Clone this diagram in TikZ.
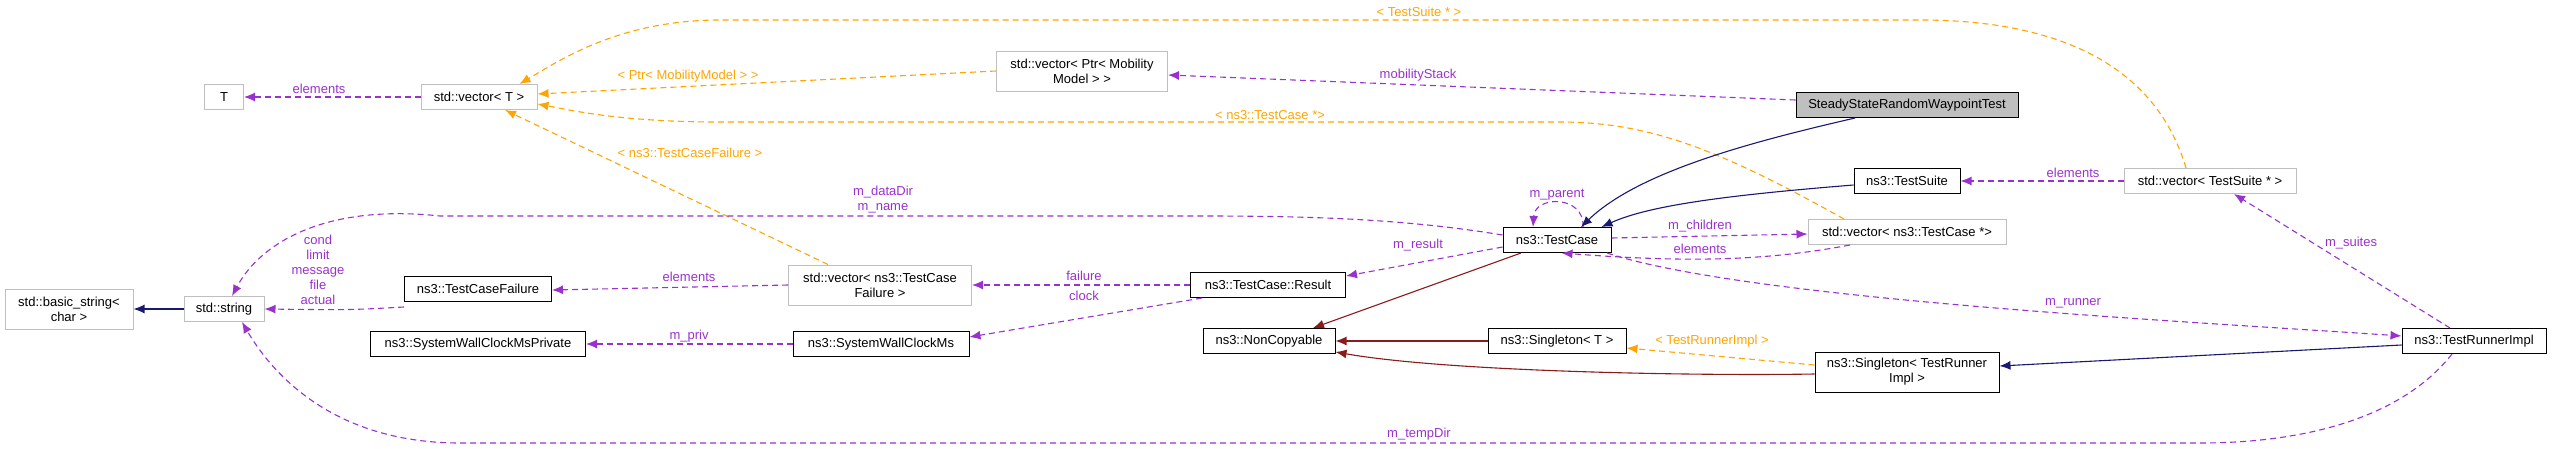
\documentclass[tikz,border=0pt]{standalone}
\usepackage{fontspec}
\setmainfont{Liberation Sans}
\usepackage{xcolor}
\usetikzlibrary{arrows.meta}
\definecolor{inherit}{RGB}{25,25,112}
\definecolor{privinh}{RGB}{139,26,26}
\definecolor{usage}{RGB}{153,50,204}
\definecolor{templ}{RGB}{255,165,0}
\begin{document}
\begin{tikzpicture}[x=1pt,y=-1pt,
  every node/.style={font=\fontsize{13}{15}\selectfont},
  cls/.style={draw=black,line width=1pt,minimum height=25pt,inner xsep=5pt,align=center},
  ext/.style={draw=black!25,line width=1pt,minimum height=25pt,inner xsep=5pt,align=center},
  lbl/.style={inner sep=1pt,align=center},
  use/.style={usage,dashed,dash pattern=on 6pt off 4pt,line width=1.1pt,-{Latex[length=11pt,width=9pt]}},
  tpl/.style={templ,dashed,dash pattern=on 6pt off 4pt,line width=1.1pt,-{Latex[length=11pt,width=9pt]}},
  pub/.style={inherit,line width=1.1pt,-{Latex[length=11pt,width=9pt]}},
  prv/.style={privinh,line width=1.1pt,-{Latex[length=11pt,width=9pt]}}]
\useasboundingbox (0,0) rectangle (2557,448);

\node[ext,minimum width=39pt]  (T)    at (224,97)  {T};
\node[ext,minimum width=116pt] (vecT) at (479,97)  {std::vector< T >};
\node[ext,minimum width=128pt,minimum height=40pt] (bstr) at (69,309) {std::basic\_string<\\char >};
\node[ext,minimum width=80pt]  (str)  at (224,309) {std::string};
\node[cls,minimum width=147pt] (tcf)  at (478,289) {ns3::TestCaseFailure};
\node[cls,minimum width=215pt] (swcp) at (478,344) {ns3::SystemWallClockMsPrivate};
\node[ext,minimum width=171pt,minimum height=40pt] (vptr) at (1082,71) {std::vector< Ptr< Mobility\\Model > >};
\node[ext,minimum width=183pt,minimum height=40pt] (vtcf) at (880,285) {std::vector< ns3::TestCase\\Failure >};
\node[cls,minimum width=176pt] (swc)  at (881,344) {ns3::SystemWallClockMs};
\node[cls,minimum width=155pt] (res)  at (1268,285) {ns3::TestCase::Result};
\node[cls,minimum width=132pt] (nc)   at (1269,341) {ns3::NonCopyable};
\node[cls,minimum width=108pt] (tc)   at (1557,240) {ns3::TestCase};
\node[cls,minimum width=138pt] (sgT)  at (1557,341) {ns3::Singleton< T >};
\node[cls,minimum width=222pt,fill=black!25] (ssr) at (1907,105) {SteadyStateRandomWaypointTest};
\node[cls,minimum width=106pt] (ts)   at (1907,181) {ns3::TestSuite};
\node[ext,minimum width=198pt] (vtc)  at (1907,232) {std::vector< ns3::TestCase *>};
\node[cls,minimum width=184pt,minimum height=40pt] (sgr) at (1907,372) {ns3::Singleton< TestRunner\\Impl >};
\node[ext,minimum width=172pt] (vts)  at (2210,181) {std::vector< TestSuite * >};
\node[cls,minimum width=144pt] (tri)  at (2474,341) {ns3::TestRunnerImpl};

% template instances
\draw[tpl] ([xshift=-24pt]vts.north) .. controls (2160,80) and (2080,20) .. (1920,20) -- (720,20)
  node[lbl,at={(1419,12)}] {< TestSuite * >}
  .. controls (620,20) and (560,60) .. ([xshift=-18pt]vecT.north east);
\draw[tpl] (vptr.west) -- ([yshift=3pt]vecT.east)
  node[lbl,at={(688,76)}] {< Ptr< MobilityModel > >};
\draw[tpl] ([xshift=-63pt]vtc.north) .. controls (1720,150) and (1650,122) .. (1560,122) -- (720,122)
  node[lbl,at={(1270,115)}] {< ns3::TestCase *>}
  .. controls (620,122) and (570,110) .. ([yshift=-7pt]vecT.east);
\draw[tpl] ([xshift=-52pt]vtcf.north) -- ([xshift=26pt]vecT.south)
  node[lbl,at={(690,153)}] {< ns3::TestCaseFailure >};
\draw[tpl] ([yshift=7pt]sgr.west) -- ([yshift=-7pt]sgT.east)
  node[lbl,at={(1712,341)}] {< TestRunnerImpl >};

% members
\draw[use] (vecT.west) -- (T.east) node[lbl,at={(319,89)}] {elements};
\draw[use] ([yshift=5pt]ssr.west) -- ([yshift=-4pt]vptr.east) node[lbl,at={(1418,75)}] {mobilityStack};
\draw[use] ([yshift=5pt]tc.west) .. controls (1400,218) and (1300,216) .. (1200,216) -- (440,216)
  .. controls (330,204) and (262,240) .. ([xshift=8pt]str.north)
  node[lbl,at={(883,200)}] {m\_dataDir\\m\_name};
\draw[use] ([yshift=-5pt]tcf.south west) .. controls (350,310) .. (str.east)
  node[lbl,at={(318,270)}] {cond\\limit\\message\\file\\actual};
\draw[use] ([xshift=-22pt]tri.south) .. controls (2400,420) and (2300,443) .. (2200,443) -- (460,443)
  node[lbl,at={(1419,434)}] {m\_tempDir}
  .. controls (330,443) and (270,370) .. ([xshift=18pt]str.south);
\draw[use] ([xshift=26pt]tc.north) .. controls (1585,195) and (1535,195) .. ([xshift=-24pt]tc.north)
  node[lbl,at={(1557,195)}] {m\_parent};
\draw[use] ([yshift=-7pt]tc.west) -- ([yshift=9pt]res.east) node[lbl,at={(1418,245)}] {m\_result};
\draw[use] (res.west) -- (vtcf.east) node[lbl,at={(1084,276)}] {failure};
\draw[use] ([xshift=12pt]res.south west) -- ([yshift=7pt]swc.east) node[lbl,at={(1084,296)}] {clock};
\draw[use] (swc.west) -- (swcp.east) node[lbl,at={(689,336)}] {m\_priv};
\draw[use] (vtcf.west) -- ([yshift=-1pt]tcf.east) node[lbl,at={(689,277)}] {elements};
\draw[use] ([yshift=2pt]tc.east) -- ([yshift=-2pt]vtc.west) node[lbl,at={(1700,226)}] {m\_children};
\draw[use] ([xshift=-57pt]vtc.south) .. controls (1760,262) and (1680,262) .. ([xshift=-50pt]tc.south east)
  node[lbl,at={(1700,249)}] {elements};
\draw[use] (vts.west) -- (ts.east) node[lbl,at={(2073,173)}] {elements};
\draw[use] ([xshift=-24pt]tri.north) -- ([xshift=24pt]vts.south) node[lbl,at={(2351,243)}] {m\_suites};
\draw[use] ([xshift=50pt]tc.south) .. controls (1750,300) and (2200,322) .. ([yshift=5pt]tri.west)
  node[lbl,at={(2073,303)}] {m\_runner};

% inheritance
\draw[pub] (str.west) -- (bstr.east);
\draw[pub] ([xshift=-52pt]ssr.south) .. controls (1760,140) and (1640,170) .. ([xshift=24pt]tc.north);
\draw[pub] ([yshift=-4pt]ts.west) .. controls (1730,195) and (1650,205) .. ([xshift=-10pt]tc.north east);
\draw[pub] ([yshift=-4pt]tri.west) -- ([yshift=6pt]sgr.east);
\draw[prv] ([xshift=-36pt]tc.south) -- ([xshift=44pt]nc.north);
\draw[prv] (sgT.west) -- (nc.east);
\draw[prv] ([yshift=-2pt]sgr.west) .. controls (1700,376) and (1450,372) .. ([yshift=-11pt]nc.east);
\end{tikzpicture}
\end{document}
